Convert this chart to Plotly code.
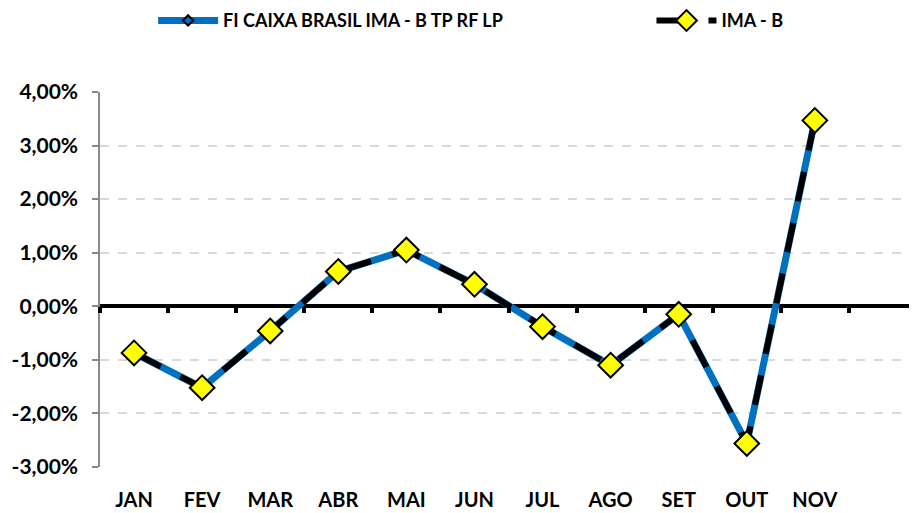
import plotly.graph_objects as go

months = ["JAN", "FEV", "MAR", "ABR", "MAI", "JUN", "JUL", "AGO", "SET", "OUT", "NOV", "DEZ"]
month_labels = ["JAN", "FEV", "MAR", "ABR", "MAI", "JUN", "JUL", "AGO", "SET", "OUT", "NOV", ""]
fundo = [-0.87, -1.52, -0.46, 0.65, 1.05, 0.41, -0.38, -1.10, -0.15, -2.56, 3.47]
ima_b = [-0.87, -1.52, -0.46, 0.65, 1.05, 0.41, -0.38, -1.10, -0.15, -2.56, 3.47]
y_ticks = [-3, -2, -1, 0, 1, 2, 3, 4]
y_tick_text = ["-3,00%", "-2,00%", "-1,00%", "0,00%", "1,00%", "2,00%", "3,00%", "4,00%"]

FONT = "Lato"

fig = go.Figure()
fig.add_trace(go.Scatter(
    x=months[:len(fundo)], y=fundo, name="FI CAIXA BRASIL IMA - B TP RF LP",
    mode="lines+markers", legend="legend",
    line=dict(color="#0070C0", width=7),
    marker=dict(symbol="diamond", size=8, color="#0070C0", line=dict(color="black", width=2)),
))
fig.add_trace(go.Scatter(
    x=months[:len(ima_b)], y=ima_b, name="IMA - B",
    mode="lines+markers", legend="legend2",
    line=dict(color="black", width=6, dash="30px,22px"),
    marker=dict(symbol="diamond", size=19, color="#FFFF00", line=dict(color="black", width=2)),
))
# helper trace to anchor the boundary-tick axis at zero
fig.add_trace(go.Scatter(x=[-0.5, len(months) - 0.5], y=[0, 0], xaxis="x2", mode="lines",
                         line=dict(width=0), showlegend=False, hoverinfo="skip"))

legend_font = dict(family=FONT, size=18, weight="bold")
fig.update_layout(
    width=909, height=505,
    margin=dict(l=92, r=0, t=84, b=46, autoexpand=False),
    plot_bgcolor="white", paper_bgcolor="white",
    font=dict(family=FONT, size=17, color="black", weight="bold"),
    showlegend=True,
    legend=dict(orientation="h", x=0.065, xanchor="left", y=1.19, yanchor="middle",
                font=legend_font, itemwidth=60),
    legend2=dict(orientation="h", x=0.675, xanchor="left", y=1.19, yanchor="middle",
                 font=legend_font, itemwidth=60),
    xaxis=dict(type="category", categoryorder="array", categoryarray=months,
               tickvals=months, ticktext=month_labels,
               range=[-0.5, len(months) - 0.5], automargin=False,
               showgrid=False, showline=False, ticks="", zeroline=False,
               ticklabelstandoff=19,
               tickfont=dict(family=FONT, size=20, weight="bold")),
    xaxis2=dict(overlaying="x", anchor="free", position=3 / 7, side="bottom",
                range=[-0.5, len(months) - 0.5], automargin=False,
                tickmode="array", tickvals=[i - 0.5 for i in range(len(months) + 1)],
                ticks="outside", ticklen=6, tickwidth=4, tickcolor="black",
                showticklabels=False, showgrid=False, showline=False, zeroline=False),
    yaxis=dict(range=[-3, 4], tickvals=y_ticks, ticktext=y_tick_text, automargin=False,
               showgrid=True, gridcolor="#D9D9D9", gridwidth=1.5, griddash="dash",
               showline=True, linecolor="#888888", linewidth=1.5,
               ticks="outside", ticklen=6, tickcolor="#888888", tickwidth=1.5,
               ticklabelstandoff=10,
               zeroline=True, zerolinecolor="black", zerolinewidth=4,
               tickfont=dict(family=FONT, size=21, weight="bold")),
)

fig.write_html("out.html")
